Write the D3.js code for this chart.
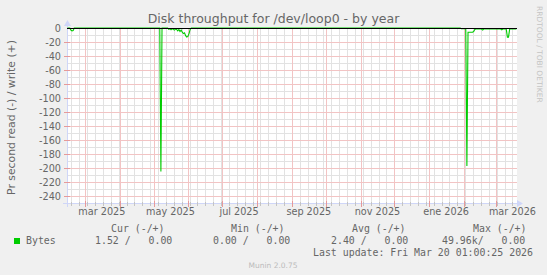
<!DOCTYPE html>
<html>
<head>
<meta charset="utf-8">
<script src="https://cdn.jsdelivr.net/npm/d3@7"></script>
<style>
  body { margin: 0; background: #f0f0f0; }
  svg { display: block; }
  text { font-family: "DejaVu Sans", sans-serif; fill: #666; }
  .mono { font-family: "DejaVu Sans Mono", monospace; white-space: pre; }
</style>
</head>
<body>
<svg id="chart" width="547" height="275"></svg>
<script>
// ---------- Data ----------
// daily read rate (drawn negative), one value per day, dates are day centres
const readDates = [
  '2025-02-13', '2025-02-15', '2025-02-16', '2025-02-17', '2025-02-18', '2025-02-19',
  '2025-05-06', '2025-05-07', '2025-05-08', '2025-05-13', '2025-05-14', '2025-05-15',
  '2025-05-16', '2025-05-17', '2025-05-18', '2025-05-19', '2025-05-20', '2025-05-21',
  '2025-05-22', '2025-05-23', '2025-05-24', '2025-05-25', '2025-05-26', '2025-05-27',
  '2025-05-28', '2025-05-29', '2025-05-30', '2025-05-31', '2025-06-01', '2025-06-02',
  '2025-06-03', '2026-01-28', '2026-01-29', '2026-02-02', '2026-02-03', '2026-02-04',
  '2026-02-08', '2026-02-09', '2026-02-10', '2026-02-11', '2026-02-16', '2026-02-17',
  '2026-02-18', '2026-03-05', '2026-03-06', '2026-03-07', '2026-03-10', '2026-03-11',
  '2026-03-12', '2026-03-13', '2026-03-19'
];
const readValues = [
  0, 0, -3, -4, -3.5, 0,
  0, -205, 0, 0, -2, -1,
  -2.5, -1, -2, -3, -1.5, -2,
  -4, -2, -5, -3, -6, -8,
  -7, -11, -13, -12, -8, -2,
  0, 0, -1, -1, -197, -6,
  -6, -5, -2, -1.5, -1.5, -3,
  -1.5, -1.5, -2.5, -1.5, -1.5, -13,
  -13, -1.5, -1.5
];

const yTickValues = [0, -20, -40, -60, -80, -100, -120, -140, -160, -180, -200, -220, -240];
const yMinorValues = [-10, -30, -50, -70, -90, -110, -130, -150, -170, -190, -210, -230, -250];
const xLabelText = ['mar 2025', 'may 2025', 'jul 2025', 'sep 2025', 'nov 2025', 'ene 2026', 'mar 2026'];
const xLabelMonths = ['2025-03', '2025-05', '2025-07', '2025-09', '2025-11', '2026-01', '2026-03'];

const legendHeaders = ['Cur (-/+)', 'Min (-/+)', 'Avg (-/+)', 'Max (-/+)'];
const legendValues = ['1.52 /   0.00', '0.00 /   0.00', '2.40 /   0.00', '49.96k/   0.00'];
const seriesName = 'Bytes';
const lastUpdate = 'Last update: Fri Mar 20 01:00:25 2026';

// ---------- Layout ----------
const plot = { left: 67, right: 517, top: 28, bottom: 203 };
const timeStart = new Date(Date.UTC(2025, 1, 13, 1));
const timeEnd = new Date(Date.UTC(2026, 2, 20, 1));

const AXIS_COL = '#cfd6f8';
const GRID_COL = '#e2e2e2';
const MGRID_COL = '#f2c4c4';
const TICK_COL = '#c4c4c4';
const MTICK_COL = '#e69a9a';
const LINE_COL = '#00cc00';

const svg = d3.select('#chart');

const x = d3.scaleUtc().domain([timeStart, timeEnd]).range([plot.left, plot.right]);
const y = d3.scaleLinear().domain([-250, 0]).range([plot.bottom, plot.top]);

const parseDay = d3.utcParse('%Y-%m-%d');
const parseMonth = d3.utcParse('%Y-%m');
const series = readDates.map((d, i) => ({
  date: d3.utcHour.offset(parseDay(d), 12),
  value: readValues[i]
}));

// centre of a pixel, so 1px strokes stay sharp
const px = v => Math.round(v) + 0.5;

// canvas
svg.append('rect')
  .attr('x', plot.left).attr('y', plot.top)
  .attr('width', plot.right - plot.left).attr('height', plot.bottom - plot.top)
  .attr('fill', '#fff');

// ---------- Grid ----------
const weeks = d3.utcMonday.range(timeStart, timeEnd);
const months = d3.utcMonth.range(timeStart, timeEnd);

const grid = svg.append('g');

grid.append('g').selectAll('line').data(yMinorValues).join('line')
  .attr('x1', plot.left).attr('x2', plot.right)
  .attr('y1', d => px(y(d))).attr('y2', d => px(y(d)))
  .attr('stroke', GRID_COL);

grid.append('g').selectAll('line').data(weeks).join('line')
  .attr('x1', d => px(x(d))).attr('x2', d => px(x(d)))
  .attr('y1', plot.top).attr('y2', plot.bottom)
  .attr('stroke', GRID_COL);

grid.append('g').selectAll('line').data(yTickValues.slice(1)).join('line')
  .attr('x1', plot.left).attr('x2', plot.right)
  .attr('y1', d => px(y(d))).attr('y2', d => px(y(d)))
  .attr('stroke', MGRID_COL);

grid.append('g').selectAll('line').data(months).join('line')
  .attr('x1', d => px(x(d))).attr('x2', d => px(x(d)))
  .attr('y1', plot.top).attr('y2', plot.bottom)
  .attr('stroke', MGRID_COL);

// ---------- Axes ----------
const axes = svg.append('g');
axes.append('line')
  .attr('x1', plot.left - 4).attr('x2', plot.right + 2)
  .attr('y1', plot.bottom + 0.5).attr('y2', plot.bottom + 0.5)
  .attr('stroke', AXIS_COL);
axes.append('line')
  .attr('x1', plot.left + 0.5).attr('x2', plot.left + 0.5)
  .attr('y1', plot.bottom + 4).attr('y2', plot.top - 3)
  .attr('stroke', AXIS_COL);

// small ticks on the axes
axes.append('g').selectAll('line').data(weeks).join('line')
  .attr('x1', d => px(x(d))).attr('x2', d => px(x(d)))
  .attr('y1', plot.bottom - 1).attr('y2', plot.bottom + 3)
  .attr('stroke', TICK_COL);
axes.append('g').selectAll('line').data(months).join('line')
  .attr('x1', d => px(x(d))).attr('x2', d => px(x(d)))
  .attr('y1', plot.bottom - 2).attr('y2', plot.bottom + 4)
  .attr('stroke', MTICK_COL);
axes.append('g').selectAll('line').data(yTickValues.slice(1)).join('line')
  .attr('x1', plot.left - 3).attr('x2', plot.left + 3)
  .attr('y1', d => px(y(d))).attr('y2', d => px(y(d)))
  .attr('stroke', MTICK_COL);

// arrows
svg.append('path')
  .attr('d', `M${plot.right + 6},${plot.bottom + 0.5} l-6,-3.5 v7 z`)
  .attr('fill', AXIS_COL);
svg.append('path')
  .attr('d', `M${plot.left + 0.5},${plot.top - 8} l-3.5,6 h7 z`)
  .attr('fill', AXIS_COL);

// ---------- Series ----------
const line = d3.line()
  .x(d => x(d.date))
  .y(d => y(d.value));

svg.append('path')
  .datum(series)
  .attr('d', line)
  .attr('fill', 'none')
  .attr('stroke', LINE_COL)
  .attr('stroke-width', 1.1);

// zero rule
svg.append('line')
  .attr('x1', plot.left).attr('x2', plot.right)
  .attr('y1', px(y(0))).attr('y2', px(y(0)))
  .attr('stroke', '#000');

// ---------- Labels ----------
svg.append('g').selectAll('text').data(yTickValues).join('text')
  .attr('x', 61)
  .attr('y', d => y(d) + 3.5)
  .attr('text-anchor', 'end')
  .style('font-size', '9.7px')
  .text(d => d);

svg.append('g').selectAll('text').data(xLabelText).join('text')
  .attr('x', (d, i) => x(d3.utcDay.offset(parseMonth(xLabelMonths[i]), 15)))
  .attr('y', 215)
  .attr('text-anchor', 'middle')
  .style('font-size', '9.7px')
  .text(d => d);

svg.append('text')
  .attr('x', 273.5).attr('y', 23)
  .attr('text-anchor', 'middle')
  .style('font-size', '12.5px')
  .text('Disk throughput for /dev/loop0 - by year');

svg.append('text')
  .attr('transform', 'translate(15,117.5) rotate(-90)')
  .attr('text-anchor', 'middle')
  .style('font-size', '10.8px')
  .text('Pr second read (-) / write (+)');

svg.append('text')
  .attr('transform', 'translate(536.5,6) rotate(90)')
  .style('font-size', '7.5px')
  .style('fill', '#c4c4c4')
  .text('RRDTOOL / TOBI OETIKER');

// ---------- Legend ----------
const headerX = [111, 231, 352, 473];
const valueX = [95, 213, 331, 442];

svg.append('g').selectAll('text').data(legendHeaders).join('text')
  .attr('class', 'mono')
  .attr('x', (d, i) => headerX[i]).attr('y', 231.5)
  .style('font-size', '9.9px')
  .text(d => d);

svg.append('rect')
  .attr('x', 14).attr('y', 238).attr('width', 6).attr('height', 6)
  .attr('fill', LINE_COL);
svg.append('text')
  .attr('class', 'mono')
  .attr('x', 26).attr('y', 243.5)
  .style('font-size', '9.9px')
  .text(seriesName);

svg.append('g').selectAll('text').data(legendValues).join('text')
  .attr('class', 'mono')
  .attr('x', (d, i) => valueX[i]).attr('y', 243.5)
  .style('font-size', '9.9px')
  .text(d => d);

svg.append('text')
  .attr('class', 'mono')
  .attr('x', 533).attr('y', 255.5)
  .attr('text-anchor', 'end')
  .style('font-size', '9.9px')
  .text(lastUpdate);

svg.append('text')
  .attr('x', 273).attr('y', 268)
  .attr('text-anchor', 'middle')
  .style('font-size', '7.5px')
  .style('fill', '#bbb')
  .text('Munin 2.0.75');
</script>
</body>
</html>
